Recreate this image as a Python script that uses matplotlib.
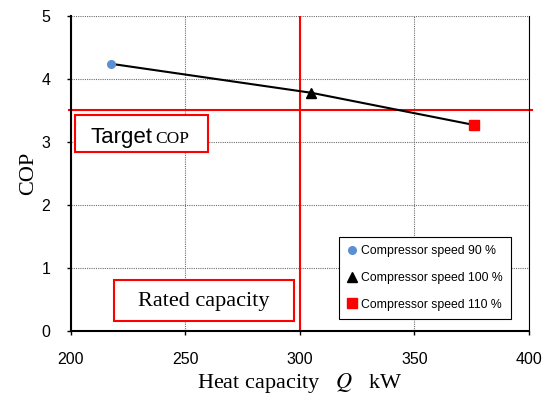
import matplotlib
matplotlib.use("Agg")
from matplotlib import pyplot as plt
from matplotlib.patches import Rectangle

# data
heat_capacity = [217.5, 305.0, 376.0]   # kW
cop = [4.24, 3.78, 3.27]
labels = ["Compressor speed 90 %", "Compressor speed 100 %", "Compressor speed 110 %"]
target_cop = 3.5
rated_capacity = 300

plt.rcParams['font.family'] = ['Liberation Sans', 'DejaVu Sans']
plt.rcParams['mathtext.fontset'] = 'stix'

fig = plt.figure(figsize=(5.52, 3.97), dpi=100)
ax = fig.add_axes([0.1286, 0.166, 0.8294, 0.794])

ax.plot(heat_capacity, cop, color='black', lw=1.5, zorder=3)
ax.plot(heat_capacity[0], cop[0], 'o', color='#5b8fd2', ms=5.5, ls='none', label=labels[0], zorder=4)
ax.plot(heat_capacity[1], cop[1], '^', color='black', ms=7, ls='none', label=labels[1], zorder=4)
ax.plot(heat_capacity[2], cop[2], 's', color='red', ms=6.5, ls='none', label=labels[2], zorder=4)

ax.axhline(target_cop, xmin=-0.005, xmax=1.007, color='red', lw=1.5, clip_on=False, zorder=2)
ax.axvline(rated_capacity, color='red', lw=1.5, zorder=2)

ax.set_xlim(200, 400)
ax.set_ylim(0, 5)
ax.set_xticks([200, 250, 300, 350, 400])
ax.set_yticks([0, 1, 2, 3, 4, 5])
ax.grid(True, color='#6f6f6f', ls=(0, (1, 1)), lw=0.8)
ax.set_axisbelow(True)
ax.tick_params(labelsize=11.5, length=3, width=1, direction='out')
ax.tick_params(axis='x', pad=12)
ax.tick_params(axis='y', pad=12)

ax.spines['top'].set_visible(False)
ax.spines['left'].set_linewidth(1.5)
ax.spines['bottom'].set_linewidth(1.5)
ax.spines['right'].set_linewidth(0.8)

ax.set_ylabel("COP", family=['Liberation Serif'], fontsize=16, labelpad=2)
ax.set_xlabel(r"Heat capacity   $\mathit{Q}$   kW", family=['Liberation Serif'], fontsize=16, labelpad=3)

# annotation boxes
ax.add_patch(Rectangle((0.0087, 0.568), 0.29, 0.118, transform=ax.transAxes,
                       fill=True, facecolor='white', edgecolor='red', lw=1.5, clip_on=False, zorder=5))
ax.text(0.177, 0.597, "Target", transform=ax.transAxes, ha='right', va='baseline',
        fontsize=16, zorder=6)
ax.text(0.184, 0.597, "COP", transform=ax.transAxes, ha='left', va='baseline',
        fontsize=12.5, family=['Liberation Serif'], zorder=6)

ax.add_patch(Rectangle((0.094, 0.032), 0.393, 0.130, transform=ax.transAxes,
                       fill=True, facecolor='white', edgecolor='red', lw=1.5, zorder=5))
ax.text(0.29, 0.094, "Rated capacity", transform=ax.transAxes, ha='center', va='center',
        fontsize=16, family=['Liberation Serif'], zorder=6)

leg = ax.legend(loc='lower right', bbox_to_anchor=(0.961, 0.038), borderaxespad=0,
                fontsize=8.8, frameon=True, fancybox=False, edgecolor='black', framealpha=1,
                handlelength=0.8, handletextpad=0.3, labelspacing=1.2, borderpad=0.7)
leg.get_frame().set_linewidth(0.8)

fig.savefig("out.png", dpi=100)
